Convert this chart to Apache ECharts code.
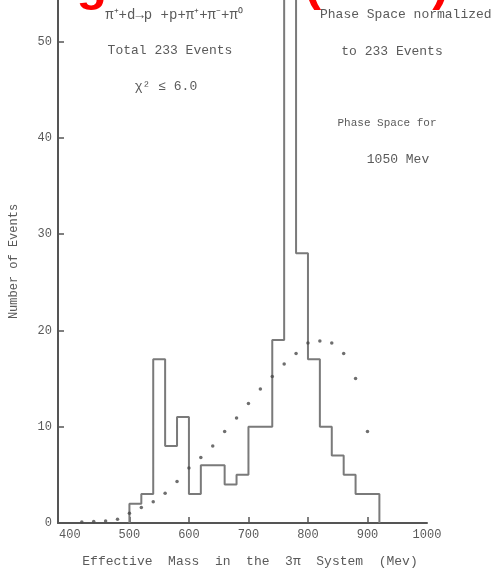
<!DOCTYPE html>
<html><head><meta charset="utf-8">
<script src="https://cdn.jsdelivr.net/npm/echarts@6/dist/echarts.min.js"></script>
<style>html,body{margin:0;padding:0;background:#fff;overflow:hidden}#c{width:501px;height:574px}</style>
</head><body><div id="c"></div>
<script>
// Histogram of effective mass (MeV), 20 MeV bins
const binEdges = [500,520,540,560,580,600,620,640,660,680,700,720,740,760,780,800,820,840,860,880,900,920];
const counts   = [2,3,17,8,11,3,6,6,4,5,10,10,19,56,28,17,10,7,5,3,3];
// Phase space curve (dots), normalized to 233 events
const psMass   = [420,440,460,480,500,520,540,560,580,600,620,640,660,680,700,720,740,760,780,800,820,840,860,880,900];
const psValue  = [0.1,0.15,0.2,0.4,1.0,1.6,2.2,3.1,4.3,5.7,6.8,8.0,9.5,10.9,12.4,13.9,15.2,16.5,17.6,18.7,18.9,18.7,17.6,15.0,9.5];
// Axis ticks
const xLabels  = [400,500,600,700,800,900,1000];
const xTickMarks = [500,600,700,800,900];
const yLabels  = [0,10,20,30,40,50];

const histLine = [[binEdges[0],0]];
for (let i=0;i<counts.length;i++){ histLine.push([binEdges[i],counts[i]]); histLine.push([binEdges[i+1],counts[i]]); }
histLine.push([binEdges[binEdges.length-1],0]);
const psData = psMass.map((m,i)=>[m,psValue[i]]);

const mono = 'Liberation Mono';
const txt = '#5a5a5a';
const chart = echarts.init(document.getElementById('c'), null, {renderer:'canvas'});
chart.setOption({
  animation:false,
  backgroundColor:'#fff',
  grid:{left:55,right:74,top:0,bottom:51,containLabel:false},
  xAxis:{type:'value',min:380,max:1000,
    axisLine:{show:true,lineStyle:{color:'#555',width:2}},
    axisTick:{show:true,inside:true,length:6,customValues:xTickMarks,lineStyle:{color:'#555',width:1.5}},
    axisLabel:{customValues:xLabels,color:txt,fontFamily:mono,fontSize:12,margin:6,formatter:v=>String(v)},
    splitLine:{show:false}},
  yAxis:{type:'value',min:0,max:54.3,
    name:'Number of Events',nameLocation:'middle',nameRotate:90,nameGap:38,
    nameTextStyle:{color:txt,fontFamily:mono,fontSize:12},
    axisLine:{show:true,lineStyle:{color:'#555',width:2}},
    axisTick:{show:true,inside:true,length:6,customValues:yLabels,lineStyle:{color:'#555',width:1.5}},
    axisLabel:{customValues:yLabels,color:txt,fontFamily:mono,fontSize:12,margin:6,formatter:v=>String(v)},
    splitLine:{show:false}},
  series:[
    {type:'line',data:histLine,symbol:'none',clip:true,lineStyle:{color:'#7a7a7a',width:2},z:2},
    {type:'scatter',data:psData,symbol:'circle',symbolSize:3.5,itemStyle:{color:'#4a4a4a'},z:3}
  ],
  graphic:[
    {type:'text',x:228,y:-14,style:{text:'Maglić et al. (1961)',fill:'#ff0000',font:'bold 50px "Liberation Sans"',align:'center',verticalAlign:'middle'}},
    {type:'text',x:174,y:15,style:{text:'π⁺+d→p +p+π⁺+π⁻+π⁰',fill:txt,font:'14px "Liberation Mono"',align:'center',verticalAlign:'middle'}},
    {type:'text',x:170,y:51,style:{text:'Total 233 Events',fill:txt,font:'13px "Liberation Mono"',align:'center',verticalAlign:'middle'}},
    {type:'text',x:166,y:87,style:{text:'χ² ≤ 6.0',fill:txt,font:'13px "Liberation Mono"',align:'center',verticalAlign:'middle'}},
    {type:'text',x:320,y:15,style:{text:'Phase Space normalized',fill:txt,font:'13px "Liberation Mono"',align:'left',verticalAlign:'middle'}},
    {type:'text',x:392,y:52,style:{text:'to 233 Events',fill:txt,font:'13px "Liberation Mono"',align:'center',verticalAlign:'middle'}},
    {type:'text',x:387,y:123,style:{text:'Phase Space for',fill:txt,font:'11px "Liberation Mono"',align:'center',verticalAlign:'middle'}},
    {type:'text',x:398,y:160,style:{text:'1050 Mev',fill:txt,font:'13px "Liberation Mono"',align:'center',verticalAlign:'middle'}},
    {type:'text',x:250,y:562,style:{text:'Effective  Mass  in  the  3π  System  (Mev)',fill:txt,font:'13px "Liberation Mono"',align:'center',verticalAlign:'middle'}}
  ]
});
</script></body></html>
